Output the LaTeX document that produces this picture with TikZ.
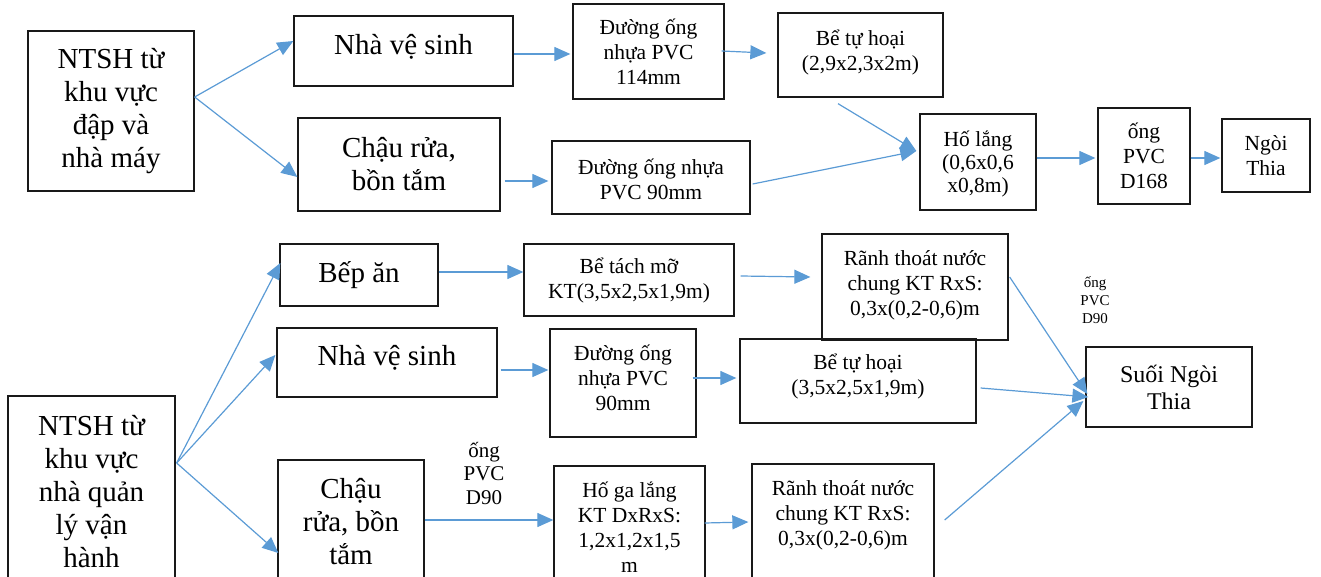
\documentclass[tikz,border=0pt]{standalone}
\usepackage{fontspec}
\setmainfont{Liberation Serif}
\usetikzlibrary{arrows.meta,calc}
\definecolor{arrblue}{HTML}{5B9BD5}
\newcommand\mybox[8]{%
  \node[box, minimum width=#4pt, minimum height=#5pt,
        label={[#6, name=#1t, yshift=#7pt]center:{#8}}] (#1) at (#2,#3) {};}
\begin{document}
\begin{tikzpicture}[x=1pt,y=-1pt,
  box/.style={draw=black!90, line width=1.3pt, rectangle, inner sep=0pt},
  big/.style={font=\fontsize{29}{33}\selectfont, align=center, inner sep=0pt},
  lg/.style={font=\fontsize{24}{27}\selectfont, align=center, inner sep=0pt},
  mid/.style={font=\fontsize{21.5}{25}\selectfont, align=center, inner sep=0pt},
  midc/.style={font=\fontsize{21.5}{23}\selectfont, align=center, inner sep=0pt},
  midb/.style={font=\fontsize{21}{23.5}\selectfont, align=center, inner sep=0pt},
  sml/.style={font=\fontsize{15}{18}\selectfont, align=center, inner sep=0pt},
  arr/.style={draw=arrblue, line width=1.2pt, -{Triangle[length=16pt,width=14pt]}}]
\useasboundingbox (0,0) rectangle (1321,577);
\clip (0,0) rectangle (1321,577);

% upper part
\mybox{A1}{111}{111}{166}{160}{big}{0}{NTSH từ\\khu vực\\đập và\\nhà máy}
\mybox{B1}{403.5}{51}{219}{70}{big}{4}{Nhà vệ sinh}
\mybox{B2}{399}{164.5}{202}{93}{big}{0}{Chậu rửa,\\bồn tắm}
\mybox{C1}{648.5}{51.5}{151}{95}{mid}{0}{Đường ống\\nhựa PVC\\114mm}
\mybox{C2}{651}{177.5}{198}{73}{mid}{-1.5}{Đường ống nhựa\\PVC 90mm}
\mybox{D1}{860.5}{55}{165}{84}{mid}{2}{Bể tự hoại\\(2,9x2,3x2m)}
\mybox{E}{978}{162}{116}{96}{midc}{-2}{Hố lắng\\(0,6x0,6\\x0,8m)}
\mybox{F}{1144}{156}{92}{96}{mid}{0}{ống\\PVC\\D168}
\mybox{G}{1266}{155.5}{88}{73}{mid}{0}{Ngòi\\Thia}

% lower part
\mybox{H1}{91.5}{492}{167}{192}{big}{0}{NTSH từ\\khu vực\\nhà quản\\lý vận\\hành}
\mybox{I1}{359}{275}{158}{62}{big}{0}{Bếp ăn}
\mybox{I2}{387}{362.5}{220}{69}{big}{5}{Nhà vệ sinh}
\mybox{I3}{351}{522}{146}{124}{big}{0}{Chậu\\rửa, bồn\\tắm}
\mybox{J1}{629}{280}{210}{72}{mid}{0}{Bể tách mỡ\\KT(3,5x2,5x1,9m)}
\mybox{J2}{623}{383}{146}{108}{mid}{5}{Đường ống\\nhựa PVC\\90mm}
\mybox{J3}{629.5}{527}{151}{122}{mid}{0}{Hố ga lắng\\KT DxRxS:\\1,2x1,2x1,5\\m}
\mybox{K1}{915}{287}{186}{106}{mid}{2}{Rãnh thoát nước\\chung KT RxS:\\0,3x(0,2-0,6)m}
\mybox{K2}{858}{381}{236}{84}{mid}{5}{Bể tự hoại\\(3,5x2,5x1,9m)}
\mybox{K3}{843}{527}{182}{126}{mid}{12}{Rãnh thoát nước\\chung KT RxS:\\0,3x(0,2-0,6)m}
\mybox{L}{1169}{387}{166}{80}{lg}{0}{Suối Ngòi\\Thia}

\node[midb] (P1) at (484,473) {ống\\PVC\\D90};
\node[sml] (P2) at (1095,300) {ống\\PVC\\D90};

% connectors upper
\draw[arr] ($(A1.east)+(0,-14)$) -- ($(B1.west)+(0,-10)$);
\draw[arr] ($(A1.east)+(0,-14)$) -- ($(B2.west)+(0,12.5)$);
\draw[arr] ($(B1.east)+(0,3)$) -- ($(C1.west)+(-2,2.5)$);
\draw[arr] ($(B2.east)+(4,16.5)$) -- ($(C2.west)+(-3,3.5)$);
\draw[arr] ($(C1.east)+(-3,-0.5)$) -- ($(D1.west)+(-11,-2)$);
\draw[arr] ($(D1.south)+(-22.5,6)$) -- ($(E.west)+(-3,-11)$);
\draw[arr] ($(C2.east)+(2,6.5)$) -- ($(E.west)+(-3,-11)$);
\draw[arr] ($(E.east)+(0,-4)$) -- ($(F.west)+(-2,2)$);
\draw[arr] ($(F.east)+(0,2)$) -- ($(G.west)+(-1,2.5)$);

% connectors lower
\draw[arr] ($(H1.east)+(1,-29)$) -- ($(I1.west)+(1,-12)$);
\draw[arr] ($(H1.east)+(1,-29)$) -- ($(I2.west)+(-1,-7.5)$);
\draw[arr] ($(H1.east)+(1,-29)$) -- ($(I3.west)+(1,31)$);
\draw[arr] ($(I1.east)+(0,-3)$) -- ($(J1.west)+(0,-8)$);
\draw[arr] ($(I2.east)+(3,7.5)$) -- ($(J2.west)+(-1,-13)$);
\draw[arr] ($(I3.east)+(0,-2)$) -- ($(J3.west)+(0,-7)$);
\draw[arr] ($(J1.east)+(6,-4)$) -- ($(K1.west)+(-11,-10)$);
\draw[arr] ($(J2.east)+(-4,-5)$) -- ($(K2.west)+(-3,-3)$);
\draw[arr] ($(J3.east)+(-1,-4)$) -- ($(K3.west)+(-3,-5)$);
\draw[arr] ($(K1.east)+(1,-10)$) -- ($(L.west)+(2,7)$);
\draw[arr] ($(K2.east)+(4,7)$) -- ($(L.west)+(3,10)$);
\draw[arr] ($(K3.east)+(10,-7)$) -- ($(L.west)+(-2,14)$);
\end{tikzpicture}
\end{document}
